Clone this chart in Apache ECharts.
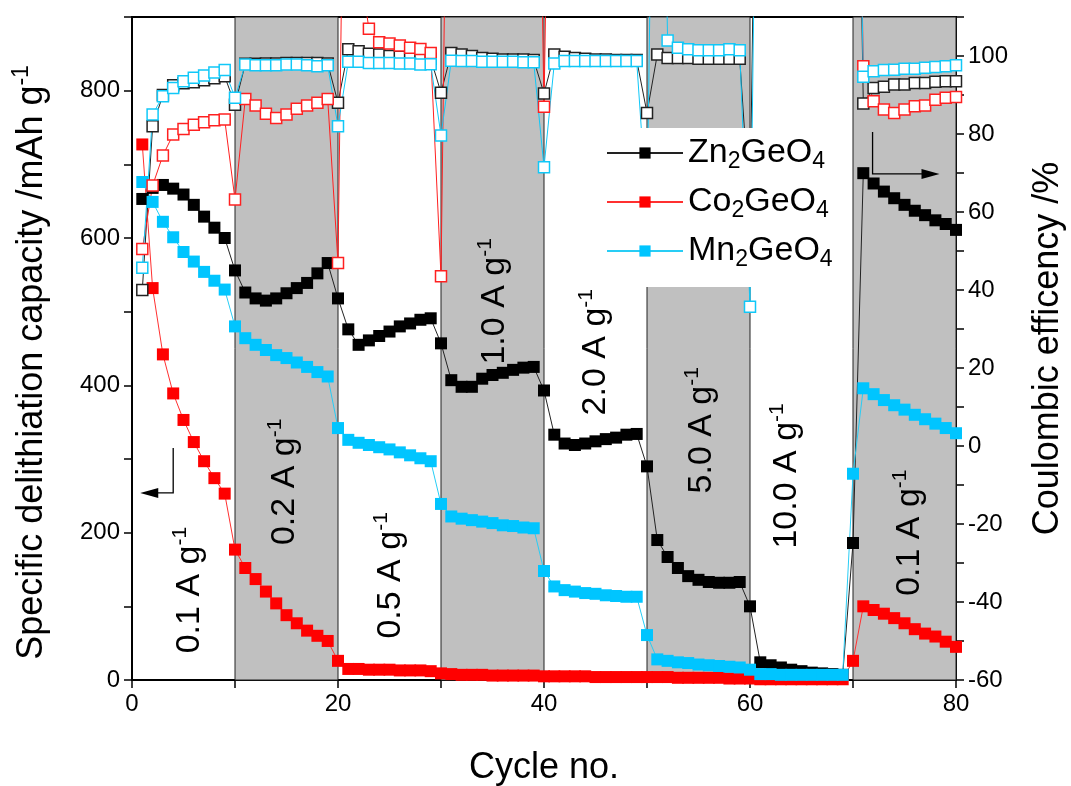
<!DOCTYPE html>
<html>
<head>
<meta charset="utf-8">
<script src="https://cdn.jsdelivr.net/npm/echarts@6/dist/echarts.min.js"></script>
<style>
  html, body { margin: 0; padding: 0; background: #fff; }
  #chart { width: 1071px; height: 786px; }
</style>
</head>
<body>
<div id="chart"></div>
<script>
// cycle numbers
const cycles = [1,2,3,4,5,6,7,8,9,10,11,12,13,14,15,16,17,18,19,20,
  21,22,23,24,25,26,27,28,29,30,31,32,33,34,35,36,37,38,39,40,
  41,42,43,44,45,46,47,48,49,50,51,52,53,54,55,56,57,58,59,60,
  61,62,63,64,65,66,67,68,69,70,71,72,73,74,75,76,77,78,79,80]

// delithiation capacity, mAh/g (left axis)
const znCapacity = [653,668,672,667,659,645,629,614,600,556,
  526,518,515,518,525,532,539,552,566,518,
  476,455,461,467,473,480,484,489,491,457,
  407,398,398,409,414,417,421,424,425,393,
  333,321,319,321,324,327,329,333,334,290,
  190,167,152,141,136,133,132,132,133,100,
  24,20,17,14,12,10,9,8,7,186,
  688,674,663,654,645,637,631,624,619,611]
const coCapacity = [727,532,442,389,353,323,297,274,253,177,
  152,137,120,104,88,77,67,60,53,26,
  15,15,14,14,14,13,13,13,12,9,
  8,7,7,7,6,6,6,6,6,5,
  5,5,5,5,4,4,4,4,4,4,
  4,4,3,3,3,3,3,2,2,2,
  1,1,1,1,1,1,1,1,1,26,
  100,95,90,84,77,69,63,59,52,45]
const mnCapacity = [676,649,622,601,581,568,554,542,530,480,
  464,455,448,441,437,431,425,418,412,342,
  326,322,319,316,313,309,305,301,297,239,
  222,219,217,215,213,210,209,207,206,148,
  127,122,120,118,117,115,114,113,113,61,
  28,26,24,23,21,20,19,18,17,14,
  8,8,7,7,7,7,7,7,7,280,
  396,388,380,373,367,360,354,348,342,335]

// coulombic efficiency, % (right axis); values above the axis run off the top
const znCE = [40,82,90,92.5,93,93.3,93.8,94.3,94.8,87.5,
  98,98,98.1,98.1,98.2,98.2,98.2,98.2,98.1,88,
  101.7,101.2,100.6,100.4,100,99.8,99.5,99.5,99.3,90.6,
  100.8,100.4,100,99.5,99.3,99.1,99.1,99.1,99,90.4,
  100.4,99.8,99.5,99.3,99.1,99.1,99,99,99,85.4,
  100.4,99.5,99.5,99.5,99.3,99.3,99.3,99.3,99.3,60,
  250,250,250,250,250,250,250,250,250,250,
  87.8,91.8,92.1,92.7,92.7,93.1,93.1,93.4,93.5,93.5]
const coCE = [50.5,66.8,74.5,79.9,81.3,82.4,83,83.5,83.7,63.2,
  89,87.3,85.2,84.1,85,86.5,87.3,88,89,46.9,
  250,125,107,103.5,103.2,102.7,102.1,101.8,100.8,43.5,
  250,250,250,250,250,250,250,250,250,87,
  250,250,250,250,250,250,250,250,250,250,
  250,250,250,250,250,250,250,250,250,250,
  250,250,250,250,250,250,250,250,250,250,
  97.4,88.4,86.3,85.4,86.3,87.1,87.3,88.8,89.3,89.5]
const mnCE = [45.7,85,89.7,91.8,93.5,94.4,95,95.8,96.4,89.3,
  97.8,97.6,97.6,97.6,97.8,97.8,97.6,97.4,97.6,82,
  98.5,98.5,98.2,98.2,98.2,98.1,98.1,97.8,97.9,79.6,
  98.8,98.7,98.7,98.5,98.5,98.5,98.5,98.4,98.4,71.5,
  98.1,98.7,98.7,98.7,98.7,98.7,98.7,98.7,98.7,60,
  250,104,102.1,101.7,101.5,101.5,101.5,101.7,101.5,35.7,
  250,250,250,250,250,250,250,250,250,250,
  94.7,96.1,96.4,96.5,96.7,96.7,97,97.2,97.4,97.6]

// shaded current-density blocks
const bands = [[10, 20], [30, 40], [50, 60], [70, 80]]

// rate labels: text and centre (cycle, capacity)
const rateLabels = [
  { text: '0.1 A g', x: 5.6, y: 122 },
  { text: '0.2 A g', x: 14.8, y: 269 },
  { text: '0.5 A g', x: 25.1, y: 142 },
  { text: '1.0 A g', x: 35.2, y: 514 },
  { text: '2.0 A g', x: 45.0, y: 445 },
  { text: '5.0 A g', x: 55.3, y: 339 },
  { text: '10.0 A g', x: 63.6, y: 277 },
  { text: '0.1 A g', x: 75.5, y: 200 },
]

const FONT = "Arial, 'Liberation Sans', sans-serif"
const pair = (ys) => cycles.map((c, i) => [c, ys[i]])

function capSeries(name, color, lineColor, values) {
  return {
    name: name,
    type: 'line',
    data: pair(values),
    symbol: 'rect',
    symbolSize: 12,
    showAllSymbol: true,
    clip: true,
    itemStyle: { color: color },
    lineStyle: { color: lineColor, width: 1 },
    emphasis: { disabled: true },
  }
}

function ceSeries(name, color, values) {
  return {
    name: name,
    type: 'line',
    yAxisIndex: 1,
    data: pair(values),
    symbol: 'rect',
    symbolSize: 11,
    showAllSymbol: true,
    clip: true,
    itemStyle: { color: '#fff', borderColor: color, borderWidth: 1.5 },
    lineStyle: { color: color, width: 1 },
    emphasis: { disabled: true },
  }
}

const chart = echarts.init(document.getElementById('chart'))

const option = {
  animation: false,
  textStyle: { fontFamily: FONT, color: '#000' },
  grid: {
    left: 132, right: 115, top: 17, bottom: 106,
    outerBoundsMode: 'none',
    containLabel: false,
    show: true, borderColor: '#000', borderWidth: 2,
  },
  legend: {
    data: ['Zn2GeO4', 'Co2GeO4', 'Mn2GeO4'],
    orient: 'vertical',
    left: 598,
    top: 128,
    padding: [8, 12, 16, 8],
    itemGap: 12,
    itemWidth: 76,
    itemHeight: 14,
    backgroundColor: '#fff',
    selectedMode: false,
    formatter: (n) => n.replace(/([A-Za-z]+)/g, '{m|$1}').replace(/(\d)/g, '{s|$1}'),
    textStyle: {
      fontFamily: FONT,
      fontSize: 34,
      color: '#000',
      rich: {
        m: { fontFamily: FONT, fontSize: 34, lineHeight: 40, color: '#000' },
        s: { fontFamily: FONT, fontSize: 23, lineHeight: 12, verticalAlign: 'bottom', color: '#000' },
      },
    },
  },
  xAxis: {
    type: 'value',
    min: 0,
    max: 80,
    interval: 10,
    name: 'Cycle no.',
    nameLocation: 'middle',
    nameGap: 70,
    nameTextStyle: { fontFamily: FONT, fontSize: 36, color: '#000' },
    axisLine: { lineStyle: { color: '#000', width: 2 } },
    axisTick: { length: 8, lineStyle: { color: '#000', width: 1.5 } },
    axisLabel: {
      fontFamily: FONT, fontSize: 24, color: '#000', margin: 12,
      formatter: (v) => (v % 20 === 0 ? String(v) : ''),
    },
    splitLine: { show: false },
  },
  yAxis: [
    {
      type: 'value',
      min: 0,
      max: 900,
      interval: 100,
      name: 'Specific delithiation capacity /mAh g{sup|-1}',
      nameLocation: 'middle',
      nameGap: 78,
      nameTextStyle: {
        fontFamily: FONT, fontSize: 36, color: '#000', lineHeight: 44,
        padding: [0, 28, 0, 0],
        rich: { sup: { fontFamily: FONT, fontSize: 23, lineHeight: 22, verticalAlign: 'top', color: '#000' } },
      },
      axisLine: { show: true, lineStyle: { color: '#000', width: 2 } },
      axisTick: { show: true, length: 8, lineStyle: { color: '#000', width: 1.5 } },
      axisLabel: {
        fontFamily: FONT, fontSize: 24, color: '#000', margin: 12,
        formatter: (v) => (v % 200 === 0 ? String(v) : ''),
      },
      splitLine: { show: false },
    },
    {
      type: 'value',
      min: -60,
      max: 110,
      interval: 10,
      alignTicks: false,
      position: 'right',
      name: 'Coulombic efficency /%',
      nameLocation: 'middle',
      nameGap: 74,
      nameRotate: 90,
      nameTextStyle: { fontFamily: FONT, fontSize: 36, color: '#000' },
      axisLine: { show: true, lineStyle: { color: '#000', width: 2 } },
      axisTick: { show: true, length: 8, lineStyle: { color: '#000', width: 1.5 } },
      axisLabel: {
        fontFamily: FONT, fontSize: 24, color: '#000', margin: 12,
        formatter: (v) => (v % 20 === 0 ? String(v) : ''),
      },
      splitLine: { show: false },
    },
  ],
  series: [
    {
      name: 'bands',
      type: 'line',
      data: [],
      silent: true,
      markArea: {
        silent: true,
        itemStyle: { color: '#c0c0c0', borderColor: '#222', borderWidth: 1 },
        data: bands.map((b) => [{ xAxis: b[0] }, { xAxis: b[1] }]),
      },
    },
    capSeries('Zn2GeO4', '#000', '#222', znCapacity),
    capSeries('Co2GeO4', '#ff0000', '#ff3030', coCapacity),
    capSeries('Mn2GeO4', '#00c5ff', '#28cdf5', mnCapacity),
    ceSeries('Zn2GeO4 CE', '#222', znCE),
    ceSeries('Co2GeO4 CE', '#ff2020', coCE),
    ceSeries('Mn2GeO4 CE', '#10c8f8', mnCE),
  ],
}

chart.setOption(option)

// rotated rate labels and the two axis arrows, placed in data units
const toPx = (p) => chart.convertToPixel({ xAxisIndex: 0, yAxisIndex: 0 }, p)
const graphics = []
rateLabels.forEach((a) => {
  const p = toPx([a.x, a.y])
  graphics.push({
    type: 'text',
    x: p[0],
    y: p[1],
    rotation: Math.PI / 2,
    z: 10,
    silent: true,
    style: {
      text: '{m|' + a.text + '}{s|-1}',
      align: 'center',
      verticalAlign: 'middle',
      fill: '#000',
      rich: {
        m: { fontFamily: FONT, fontSize: 34, lineHeight: 40, fill: '#000' },
        s: { fontFamily: FONT, fontSize: 21, lineHeight: 20, verticalAlign: 'top', fill: '#000' },
      },
    },
  })
})

function arrow(corner, top, tip) {
  const c = toPx(corner), t = toPx(top), e = toPx(tip)
  const dir = e[0] < c[0] ? 1 : -1
  graphics.push({
    type: 'polyline', z: 10, silent: true,
    shape: { points: [t, c, [e[0] + dir * 12, e[1]]] },
    style: { stroke: '#000', lineWidth: 1.3, fill: null },
  })
  graphics.push({
    type: 'polygon', z: 10, silent: true,
    shape: { points: [e, [e[0] + dir * 18, e[1] - 5], [e[0] + dir * 18, e[1] + 5]] },
    style: { fill: '#000' },
  })
}
arrow([4.0, 254], [4.0, 315], [0.8, 254])
arrow([71.9, 687], [71.9, 744], [78.4, 687])

chart.setOption({ graphic: graphics })
</script>
</body>
</html>
